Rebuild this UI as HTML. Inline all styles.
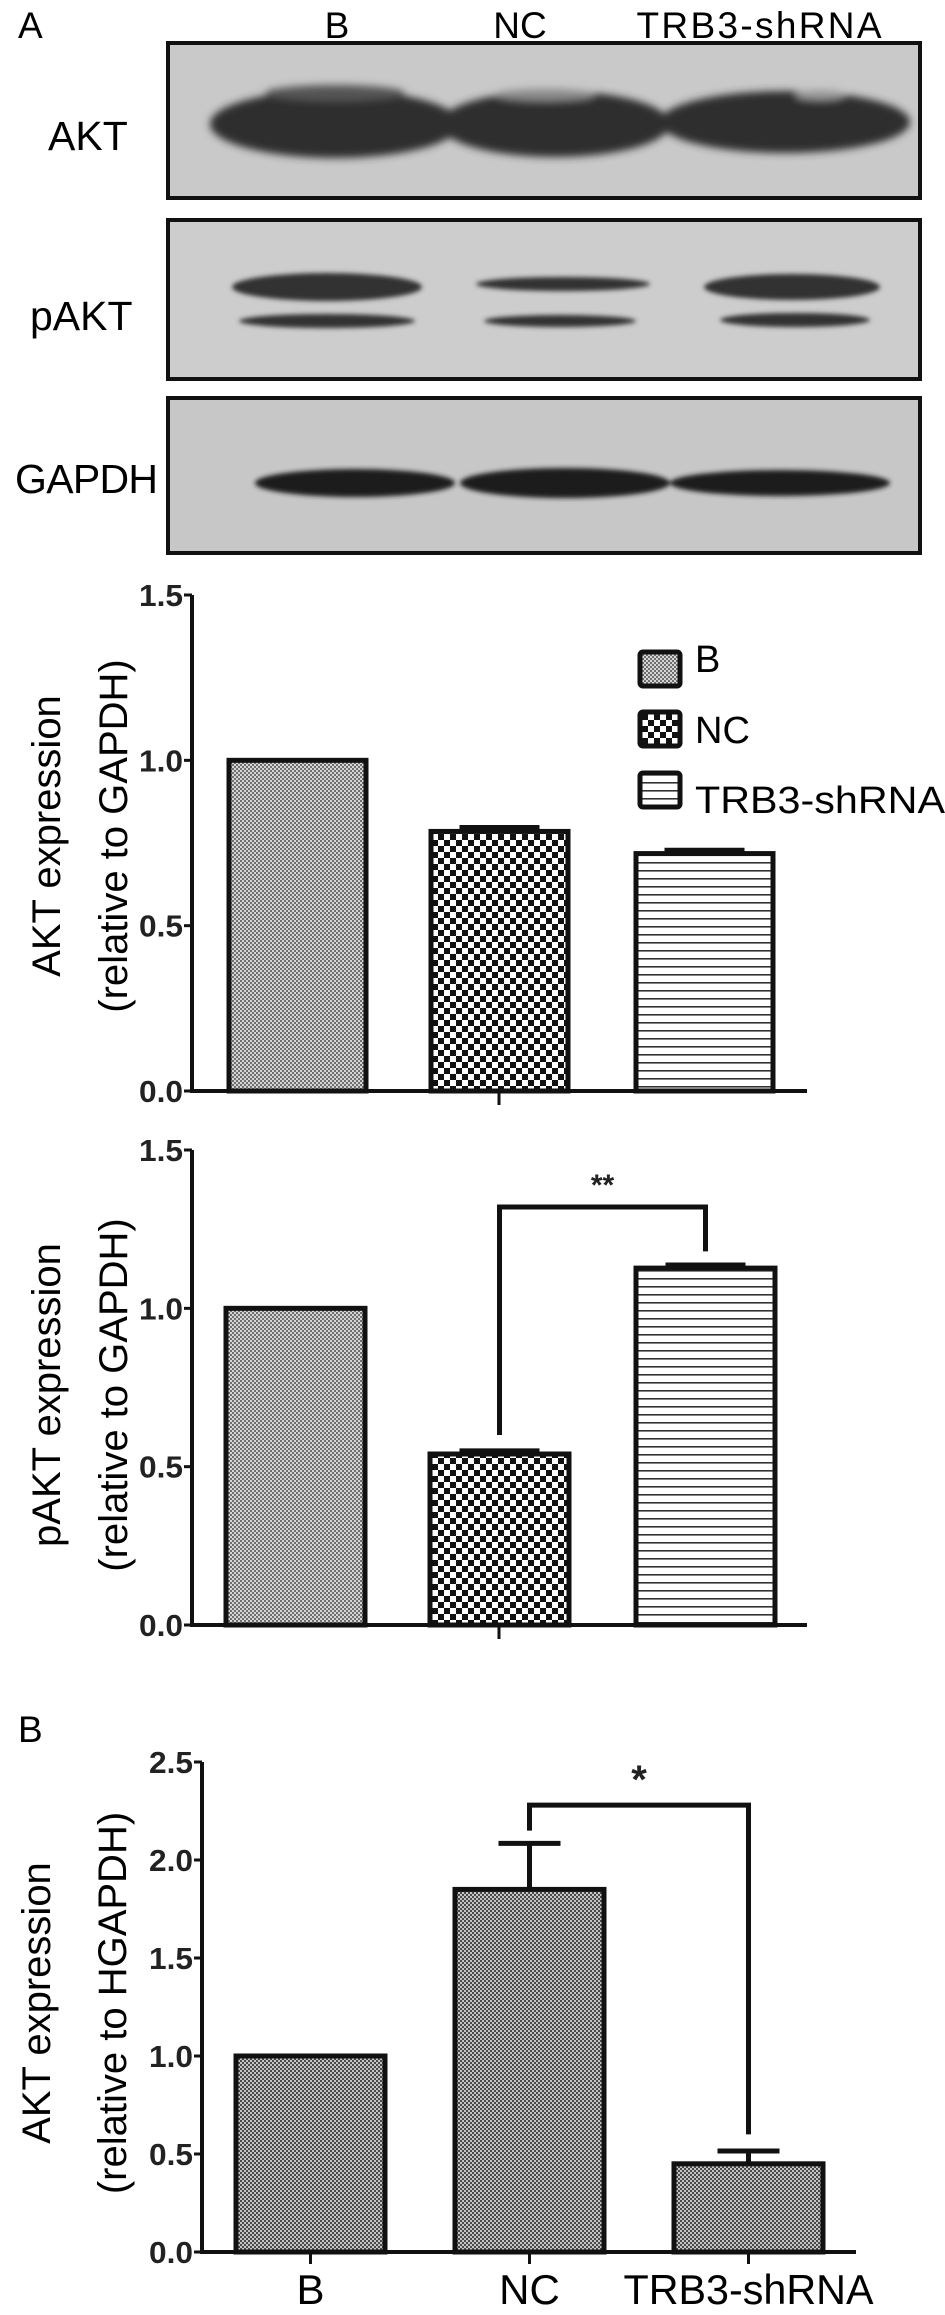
<!DOCTYPE html>
<html><head><meta charset="utf-8"><style>
html,body{margin:0;padding:0;background:#fff;}
svg{display:block;font-family:"Liberation Sans",Arial,sans-serif;}
</style></head><body>
<svg id="fig" width="945" height="2315" viewBox="0 0 945 2315" xmlns="http://www.w3.org/2000/svg">
<defs>
  <pattern id="pDot" width="4" height="4" patternUnits="userSpaceOnUse"><rect width="4" height="4" fill="#d6d6d6"/><rect width="2" height="2" fill="#6e6e6e"/><rect x="2" y="2" width="2" height="2" fill="#6e6e6e"/></pattern>
  <pattern id="pDot2" width="4" height="4" patternUnits="userSpaceOnUse"><rect width="4" height="4" fill="#c4c4c4"/><rect width="2" height="2" fill="#4a4a4a"/><rect x="2" y="2" width="2" height="2" fill="#4a4a4a"/></pattern>
  <pattern id="pCheck" width="12" height="12" patternUnits="userSpaceOnUse"><rect width="12" height="12" fill="#fff"/><rect width="6" height="6" fill="#111"/><rect x="6" y="6" width="6" height="6" fill="#111"/></pattern>
  <pattern id="pLines" width="8" height="8" patternUnits="userSpaceOnUse"><rect width="8" height="8" fill="#fff"/><rect y="6" width="8" height="1.6" fill="#333"/></pattern>
  <filter id="blur" x="-20%" y="-50%" width="140%" height="200%"><feGaussianBlur stdDeviation="4"/></filter>
  <filter id="blur2" x="-20%" y="-50%" width="140%" height="200%"><feGaussianBlur stdDeviation="2.5"/></filter>
</defs>

<!-- Western blot -->
<g>
  <text x="18" y="38" font-size="37">A</text>
  <text x="337" y="38" font-size="37" text-anchor="middle">B</text>
  <text x="520" y="38" font-size="37" text-anchor="middle">NC</text>
  <text x="759" y="38" font-size="37" text-anchor="middle" textLength="245">TRB3-shRNA</text>

  <g>
    <rect x="168" y="43" width="752" height="155" fill="#c9c9c9" stroke="#111" stroke-width="4"/>
    <g filter="url(#blur)" fill="#2e2e2e">
      <ellipse cx="335" cy="124" rx="125" ry="34"/>
      <ellipse cx="555" cy="124" rx="115" ry="33"/>
      <ellipse cx="785" cy="122" rx="125" ry="31"/>
      <ellipse cx="335" cy="93" rx="70" ry="8" fill="#555"/>
      <ellipse cx="545" cy="95" rx="50" ry="6" fill="#8a8a8a"/>
      <ellipse cx="820" cy="95" rx="25" ry="5" fill="#999"/>
    </g>
    <text x="48" y="150" font-size="41">AKT</text>
  </g>

  <g>
    <rect x="168" y="220" width="752" height="159" fill="#cdcdcd" stroke="#111" stroke-width="4"/>
    <g filter="url(#blur2)" fill="#333">
      <ellipse cx="327" cy="287" rx="95" ry="14"/>
      <ellipse cx="563" cy="284" rx="87" ry="7"/>
      <ellipse cx="792" cy="287" rx="88" ry="13"/>
      <ellipse cx="327" cy="321" rx="88" ry="7"/>
      <ellipse cx="560" cy="321" rx="76" ry="6"/>
      <ellipse cx="795" cy="320" rx="75" ry="7"/>
    </g>
    <text x="30" y="330" font-size="41">pAKT</text>
  </g>

  <g>
    <rect x="168" y="398" width="752" height="155" fill="#c7c7c7" stroke="#111" stroke-width="4"/>
    <g filter="url(#blur2)" fill="#1c1c1c">
      <ellipse cx="355" cy="483" rx="100" ry="14"/>
      <ellipse cx="565" cy="483" rx="105" ry="15"/>
      <ellipse cx="780" cy="483" rx="110" ry="13"/>
    </g>
    <text x="15" y="493" font-size="41" textLength="143">GAPDH</text>
  </g>
</g>

<g id="c1"></g>
<g id="c2"></g>
<g id="c3"></g>
<text x="18" y="1742" font-size="37">B</text>
</svg>

<script>
// ---- data ----
const categories = ["B", "NC", "TRB3-shRNA"];
const aktValues = [1.0, 0.785, 0.718];
const aktErrors = [0, 0.012, 0.01];
const paktValues = [1.0, 0.54, 1.127];
const paktErrors = [0, 0.01, 0.01];
const aktHValues = [1.0, 1.85, 0.45];
const aktHErrors = [0, 0.235, 0.065];
const ticks15 = ["0.0", "0.5", "1.0", "1.5"];
const tickVals15 = [0, 0.5, 1.0, 1.5];
const ticks25 = ["0.0", "0.5", "1.0", "1.5", "2.0", "2.5"];
const tickVals25 = [0, 0.5, 1.0, 1.5, 2.0, 2.5];

const NS = "http://www.w3.org/2000/svg";
function mk(parent, tag, attrs, text) {
  const e = document.createElementNS(NS, tag);
  for (const k in attrs) e.setAttribute(k, attrs[k]);
  if (text !== undefined) e.textContent = text;
  parent.appendChild(e);
  return e;
}

function drawChart(opt) {
  const g = document.getElementById(opt.id);
  const y = v => opt.y0 - (v / opt.max) * (opt.y0 - opt.yTop);
  const xBand = i => opt.barX[i];
  const ya = mk(g, "line", {x1: opt.ax, y1: y(opt.max), x2: opt.ax, y2: opt.y0 + 1.5, stroke: "#111", "stroke-width": 4});
  
  
  const xa = mk(g, "line", {x1: opt.ax - 2, y1: opt.y0, x2: opt.axEnd, y2: opt.y0, stroke: "#111", "stroke-width": 4});
  
  
  opt.tickVals.forEach((tv, i) => {
    const t = mk(g, "line", {x1: opt.ax - 8, y1: y(tv), x2: opt.ax, y2: y(tv), stroke: "#111", "stroke-width": 3});
    
    
    const l = mk(g, "text", {x: opt.ax - 9, y: y(tv) + 11, "font-size": 31, "font-weight": "bold", "text-anchor": "end", fill: "#222", textLength: 44, lengthAdjust: "spacingAndGlyphs"}, opt.ticks[i]);
    
    
  });
  opt.values.forEach((v, i) => {
    const x0 = xBand(i), w = opt.barW;
    const b = mk(g, "rect", {x: x0, y: y(v), width: w, height: opt.y0 - y(v), fill: "url(#" + opt.fills[i] + ")", stroke: "#111", "stroke-width": 5});
    
    
    const e = opt.errors[i];
    if (e > 0) {
      const cx = x0 + w / 2, cw = opt.capW;
      const el = mk(g, "path", {d: `M${cx} ${y(v)} V${y(v + e)} M${cx - cw / 2} ${y(v + e)} H${cx + cw / 2}`, stroke: "#111", "stroke-width": 5, fill: "none"});
      
      
    }
    if (opt.xLabels) {
      const tk = mk(g, "line", {x1: x0 + w / 2, y1: opt.y0, x2: x0 + w / 2, y2: opt.y0 + 12, stroke: "#111", "stroke-width": 3});
      
      
      const attrs = {x: x0 + w / 2, y: opt.y0 + 52, "font-size": 42, "text-anchor": "middle"};
      if (i === 2) { attrs.textLength = 250; attrs.lengthAdjust = "spacingAndGlyphs"; }
      const tl = mk(g, "text", attrs, categories[i]);
      
      
    }
  });
  if (opt.midTick) {
    const mt = mk(g, "line", {x1: opt.midTick, y1: opt.y0, x2: opt.midTick, y2: opt.y0 + 14, stroke: "#111", "stroke-width": 3});
    
    
  }
  const t1 = mk(g, "text", {x: 0, y: 0, "font-size": 40, "text-anchor": "middle", transform: `translate(${opt.titleX1},${opt.titleY}) rotate(-90)`}, opt.title1);
  
  
  const t2 = mk(g, "text", {x: 0, y: 0, "font-size": 40, "text-anchor": "middle", transform: `translate(${opt.titleX2},${opt.titleY}) rotate(-90)`}, opt.title2);
  
  
  if (opt.sig) {
    const s = opt.sig;
    const cxA = xBand(s.a) + opt.barW / 2, cxB = xBand(s.b) + opt.barW / 2;
    const br = mk(g, "path", {d: `M${cxA} ${y(s.aEnd)} V${y(s.top)} H${cxB} V${y(s.bEnd)}`, stroke: "#111", "stroke-width": 5, fill: "none"});
    
    
    const st = mk(g, "text", {x: (cxA + cxB) / 2 + s.dx, y: y(s.top) - 12, "font-size": s.fs, "font-weight": "bold", "text-anchor": "middle", fill: "#222"}, s.label);
    
    
  }
}

drawChart({id: "c1", ax: 192, axEnd: 807, y0: 1091, yTop: 595, max: 1.5, ticks: ticks15, tickVals: tickVals15,
  values: aktValues, errors: aktErrors, barX: [229, 431, 636], barW: 137, capW: 80,
  fills: ["pDot", "pCheck", "pLines"], midTick: 499,
  title1: "AKT expression", title2: "(relative to GAPDH)", titleX1: 60, titleX2: 127, titleY: 836});

drawChart({id: "c2", ax: 192, axEnd: 807, y0: 1625, yTop: 1150, max: 1.5, ticks: ticks15, tickVals: tickVals15,
  values: paktValues, errors: paktErrors, barX: [226, 430, 636], barW: 139, capW: 80,
  fills: ["pDot", "pCheck", "pLines"], midTick: 499,
  title1: "pAKT expression", title2: "(relative to GAPDH)", titleX1: 60, titleX2: 127, titleY: 1395,
  sig: {a: 1, b: 2, aEnd: 0.6, bEnd: 1.18, top: 1.32, label: "**", dx: 0, fs: 30}});

drawChart({id: "c3", ax: 202, axEnd: 856, y0: 2252, yTop: 1762, max: 2.5, ticks: ticks25, tickVals: tickVals25,
  values: aktHValues, errors: aktHErrors, barX: [236, 455, 674], barW: 149, capW: 62,
  fills: ["pDot2", "pDot2", "pDot2"], xLabels: true,
  title1: "AKT expression", title2: "(relative to HGAPDH)", titleX1: 50, titleX2: 126, titleY: 2003,
  sig: {a: 1, b: 2, aEnd: 2.15, bEnd: 0.6, top: 2.28, label: "*", dx: 0, fs: 40}});

const c1 = document.getElementById("c1");
const legFills = ["pDot", "pCheck", "pLines"];
const legY = [652, 712, 773];
const legBase = [672, 743, 813];
categories.forEach((c, i) => {
  const lg = mk(c1, "g", {});
  
  
  mk(lg, "rect", {x: 640, y: legY[i], width: 40, height: 34, rx: 3, fill: "url(#" + legFills[i] + ")", stroke: "#111", "stroke-width": 5});
  const attrs = {x: 695, y: legBase[i], "font-size": 38};
  if (i === 2) { attrs.textLength = 250; attrs.lengthAdjust = "spacingAndGlyphs"; }
  mk(lg, "text", attrs, c);
});
</script>
</body></html>
